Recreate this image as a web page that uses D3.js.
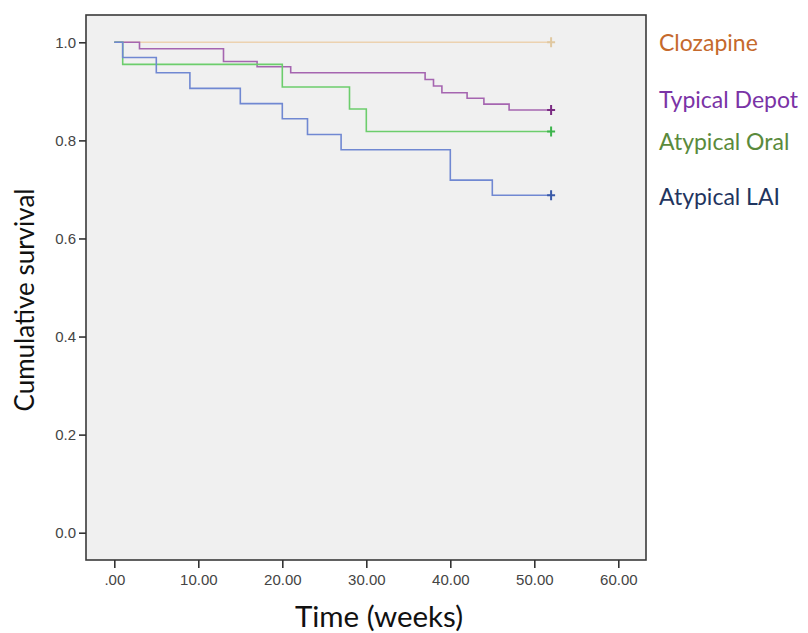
<!DOCTYPE html>
<html>
<head>
<meta charset="utf-8">
<script src="https://cdn.jsdelivr.net/npm/d3@7"></script>
<style>
  body { margin: 0; background: #fff; }
  svg { display: block; }
</style>
</head>
<body>
<div id="chart"></div>
<script>
const width = 808;
const height = 633;

// survival steps: [weeks, cumulative survival]
const clozapine = [[0, 1], [52, 1]];
const typicalDepot = [[0, 1], [3, 0.987], [13, 0.961], [17, 0.950], [21, 0.938], [37, 0.924],
    [38, 0.911], [39, 0.897], [42, 0.886], [44, 0.874], [47, 0.862], [52, 0.862]];
const atypicalOral = [[0, 1], [1, 0.955], [20, 0.909], [28, 0.864], [30, 0.818], [52, 0.818]];
const atypicalLAI = [[0, 1], [1, 0.969], [5, 0.938], [9, 0.906], [15, 0.875], [20, 0.844],
    [23, 0.812], [27, 0.781], [40, 0.719], [45, 0.688], [52, 0.688]];

const groups = ["Clozapine", "Typical Depot", "Atypical Oral", "Atypical LAI"];
const series = [clozapine, typicalDepot, atypicalOral, atypicalLAI];
const lineColors = ["#ecd2b0", "#a565b0", "#6ccd6c", "#7088d2"];
const markColors = ["#e0c8a0", "#7a2a82", "#3cb44c", "#3a5aa8"];
const labelColors = ["#c5692c", "#7a33a6", "#5a8a3c", "#1f3560"];
const labelY = [43, 100, 142, 197];

const xTicks = [0, 10, 20, 30, 40, 50, 60];
const yTicks = [0, 0.2, 0.4, 0.6, 0.8, 1.0];

const frame = {left: 86, top: 15, right: 646, bottom: 560};

const x = d3.scaleLinear().domain([0, 60]).range([114.3, 618.3]);
const y = d3.scaleLinear().domain([0, 1]).range([532.7, 42.3]);

const svg = d3.select("#chart").append("svg")
    .attr("width", width)
    .attr("height", height);

svg.append("rect")
    .attr("x", frame.left)
    .attr("y", frame.top)
    .attr("width", frame.right - frame.left)
    .attr("height", frame.bottom - frame.top)
    .attr("fill", "#f0f0f0")
    .attr("stroke", "#3a3a3a")
    .attr("stroke-width", 1.6);

// y axis
const yAxis = svg.append("g")
    .attr("transform", `translate(${frame.left},0)`)
    .call(d3.axisLeft(y).tickValues(yTicks).tickFormat(d3.format(".1f")).tickSize(7).tickPadding(3));
yAxis.select(".domain").remove();
yAxis.selectAll(".tick line").attr("stroke", "#333").attr("stroke-width", 1.6);
yAxis.selectAll(".tick text")
    .attr("fill", "#444")
    .style("font-family", "'Liberation Sans', Arial, sans-serif")
    .style("font-size", "15px");

// x axis
const xAxis = svg.append("g")
    .attr("transform", `translate(0,${frame.bottom})`)
    .call(d3.axisBottom(x).tickValues(xTicks)
        .tickFormat(d => d === 0 ? ".00" : d3.format(".2f")(d)).tickSize(8).tickPadding(6));
xAxis.select(".domain").remove();
xAxis.selectAll(".tick line").attr("stroke", "#333").attr("stroke-width", 1.6);
xAxis.selectAll(".tick text")
    .attr("fill", "#444")
    .style("font-family", "'Liberation Sans', Arial, sans-serif")
    .style("font-size", "15px");

// curves
const line = d3.line()
    .x(d => x(d[0]))
    .y(d => y(d[1]))
    .curve(d3.curveStepAfter);

const g = svg.append("g");

series.forEach((s, i) => {
    g.append("path")
        .datum(s)
        .attr("d", line)
        .attr("fill", "none")
        .attr("stroke", lineColors[i])
        .attr("stroke-width", 1.6);
});

// censor marks at the end of follow-up
series.forEach((s, i) => {
    const last = s[s.length - 1];
    const cx = x(last[0]), cy = y(last[1]);
    g.append("path")
        .attr("d", `M${cx - 4},${cy}H${cx + 4}M${cx},${cy - 5}V${cy + 5}`)
        .attr("stroke", markColors[i])
        .attr("stroke-width", 2);
});

// legend labels
svg.selectAll(".legend")
    .data(groups)
    .join("text")
    .attr("class", "legend")
    .attr("x", 659)
    .attr("y", (d, i) => labelY[i])
    .attr("dy", "0.35em")
    .attr("fill", (d, i) => labelColors[i])
    .style("font-family", "Lato, 'Open Sans', sans-serif")
    .style("font-size", "23px")
    .text(d => d);

// axis titles
svg.append("text")
    .attr("x", 379)
    .attr("y", 627)
    .attr("text-anchor", "middle")
    .attr("fill", "#111")
    .style("font-family", "Lato, 'Open Sans', sans-serif")
    .style("font-size", "29.5px")
    .text("Time (weeks)");

svg.append("text")
    .attr("transform", "translate(34,300) rotate(-90)")
    .attr("text-anchor", "middle")
    .attr("fill", "#111")
    .style("font-family", "Lato, 'Open Sans', sans-serif")
    .style("font-size", "26px")
    .text("Cumulative survival");
</script>
</body>
</html>
